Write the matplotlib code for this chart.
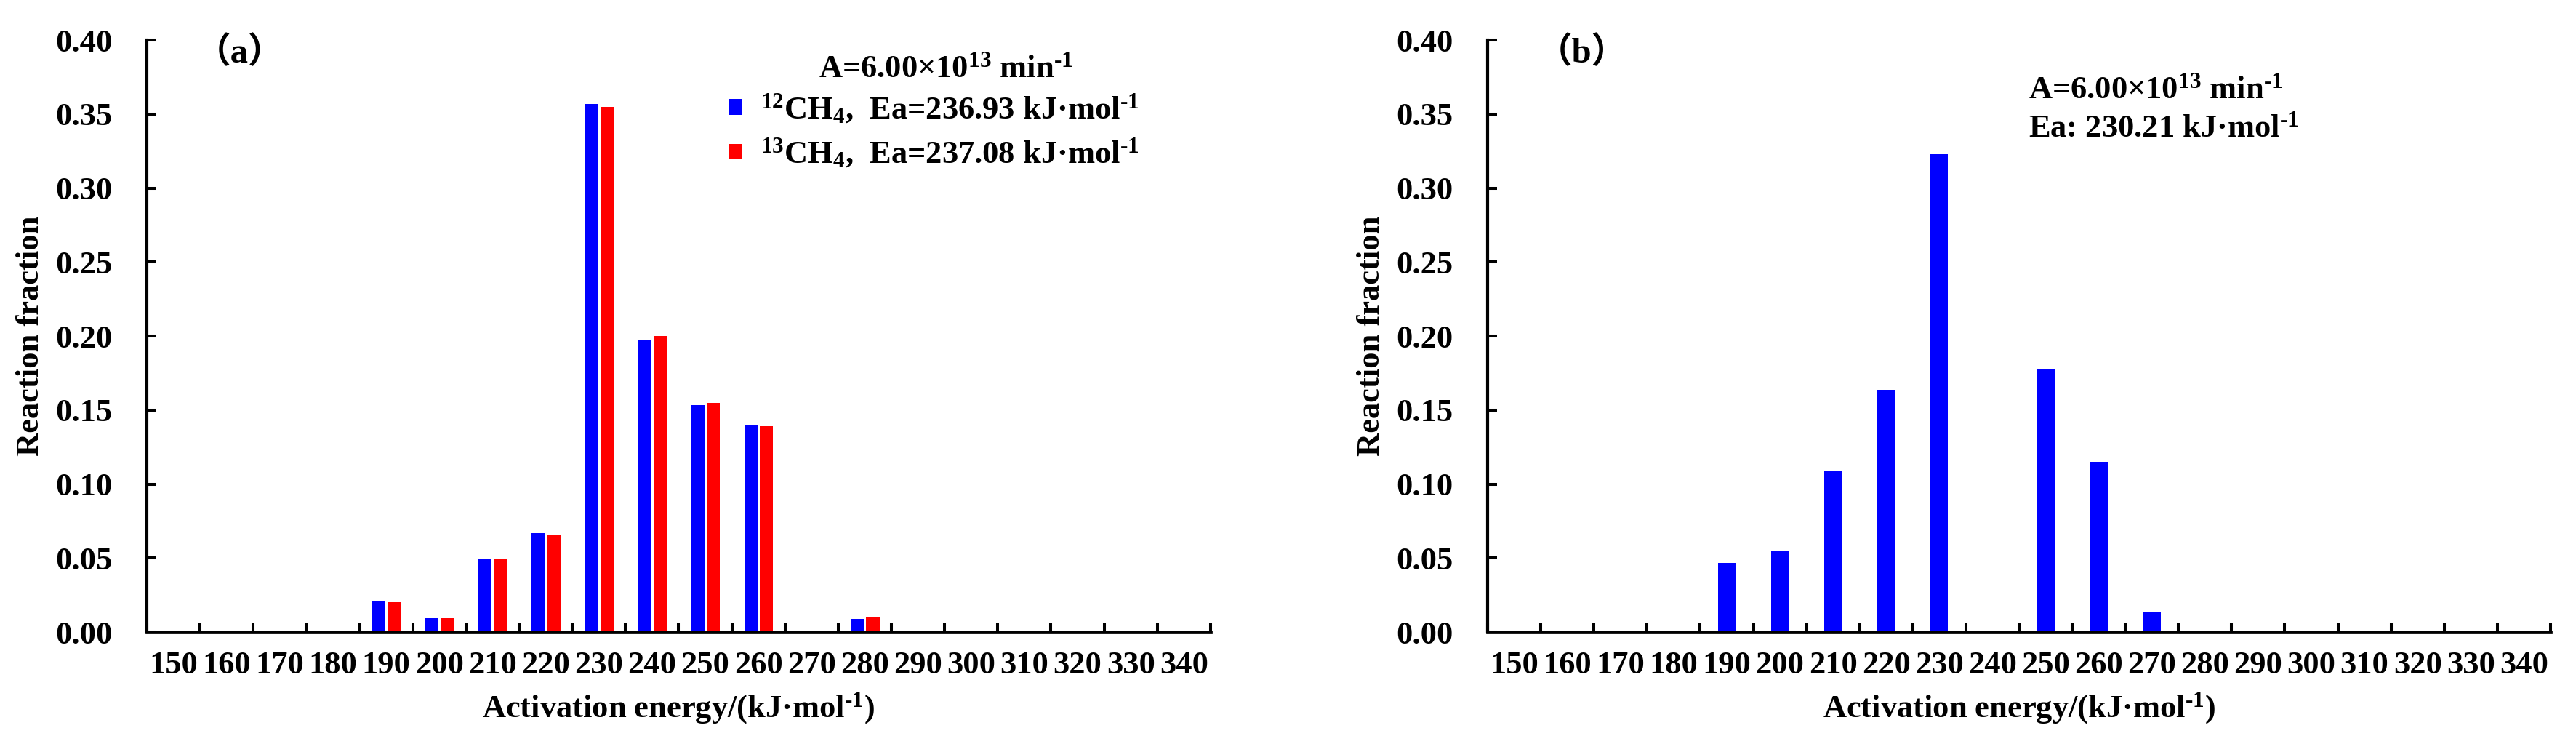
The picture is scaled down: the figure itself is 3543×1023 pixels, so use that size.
import numpy as np
import matplotlib
matplotlib.use("Agg")
import matplotlib.pyplot as plt

energias = [150, 160, 170, 180, 190, 200, 210, 220, 230, 240,
            250, 260, 270, 280, 290, 300, 310, 320, 330, 340]
ch4_12 = [0, 0, 0, 0, 0.0208, 0.0096, 0.0497, 0.0670, 0.3567, 0.1978,
          0.1535, 0.1397, 0, 0.0090, 0, 0, 0, 0, 0, 0]
ch4_13 = [0, 0, 0, 0, 0.0202, 0.0096, 0.0490, 0.0654, 0.3548, 0.2000,
          0.1548, 0.1391, 0, 0.0099, 0, 0, 0, 0, 0, 0]
ch4_b = [0, 0, 0, 0, 0.0466, 0.0553, 0.1093, 0.1636, 0.3227, 0,
         0.1773, 0.1150, 0.0131, 0, 0, 0, 0, 0, 0, 0]

etiqueta_12 = r"$^{12}$CH$_4$,  Ea=236.93 kJ·mol$^{\text{-1}}$"
etiqueta_13 = r"$^{13}$CH$_4$,  Ea=237.08 kJ·mol$^{\text{-1}}$"
texto_A = r"A=6.00×10$^{13}$ min$^{\text{-1}}$"
texto_Ea = r"Ea: 230.21 kJ·mol$^{\text{-1}}$"

FS = 32
plt.rcParams["font.family"] = ["Liberation Serif", "Noto Sans CJK SC", "DejaVu Sans"]
plt.rcParams["font.weight"] = "bold"
plt.rcParams["axes.labelweight"] = "bold"
plt.rcParams["font.size"] = FS
plt.rcParams["mathtext.fontset"] = "custom"
plt.rcParams["mathtext.rm"] = "Liberation Serif:bold"
plt.rcParams["mathtext.it"] = "Liberation Serif:bold"
plt.rcParams["mathtext.bf"] = "Liberation Serif:bold"


def Ejes(ax, letra):
    n = len(energias)
    x = np.arange(n)
    ax.set_xlim(-0.5, n - 0.5)
    ax.set_ylim(0, 0.40)
    ax.set_xticks(x)
    ax.set_xticklabels([str(e) for e in energias])
    ax.set_xticks(np.arange(n + 1) - 0.5, minor=True)
    ax.tick_params(axis="x", which="major", length=0, pad=19)
    ax.tick_params(axis="x", which="minor", direction="in", length=9.5, width=2.9)
    ax.set_yticks(np.arange(0, 0.401, 0.05))
    ax.yaxis.set_major_formatter("{x:.2f}")
    ax.tick_params(axis="y", direction="in", length=9.5, width=2.9, pad=34)
    ax.spines["top"].set_visible(False)
    ax.spines["right"].set_visible(False)
    ax.spines["left"].set_linewidth(3.0)
    ax.spines["bottom"].set_linewidth(3.4)
    ax.set_ylabel("Reaction fraction", fontweight="bold")
    ax.yaxis.set_label_coords(-0.096, 0.5)
    ax.set_xlabel(r"Activation energy/(kJ·mol$^{\text{-1}}$)", fontweight="bold")
    ax.xaxis.set_label_coords(0.5, -0.099)
    ax.text(0.046, 0.978, "（" + letra + "）", transform=ax.transAxes,
            ha="left", va="center", fontsize=FS + 3)
    return x


fig = plt.figure(figsize=(35.43, 10.23), dpi=100)

ax1 = fig.add_axes([0.0570, 0.1505, 0.4129, 0.7957])
x = Ejes(ax1, "a")
b1 = ax1.bar(x - 0.14, ch4_12, width=0.25, color="#0000FF")
b2 = ax1.bar(x + 0.15, ch4_13, width=0.25, color="#FF0000")
ax1.text(0.751, 0.937, texto_A, transform=ax1.transAxes, ha="center", va="baseline")
ax1.legend(handles=[b1, b2], labels=[etiqueta_12, etiqueta_13], loc="upper left",
           bbox_to_anchor=(0.5475, 0.912), frameon=False, handlelength=0.41,
           handleheight=0.37, handletextpad=0.55, labelspacing=0.35,
           borderpad=0, borderaxespad=0, fontsize=FS)

ax2 = fig.add_axes([0.5775, 0.1505, 0.4126, 0.7957])
x = Ejes(ax2, "b")
ax2.bar(x, ch4_b, width=0.33, color="#0000FF")
ax2.text(0.509, 0.9017, texto_A, transform=ax2.transAxes, ha="left", va="baseline")
ax2.text(0.509, 0.8366, texto_Ea, transform=ax2.transAxes, ha="left", va="baseline")

fig.savefig("out.png", dpi=100)
